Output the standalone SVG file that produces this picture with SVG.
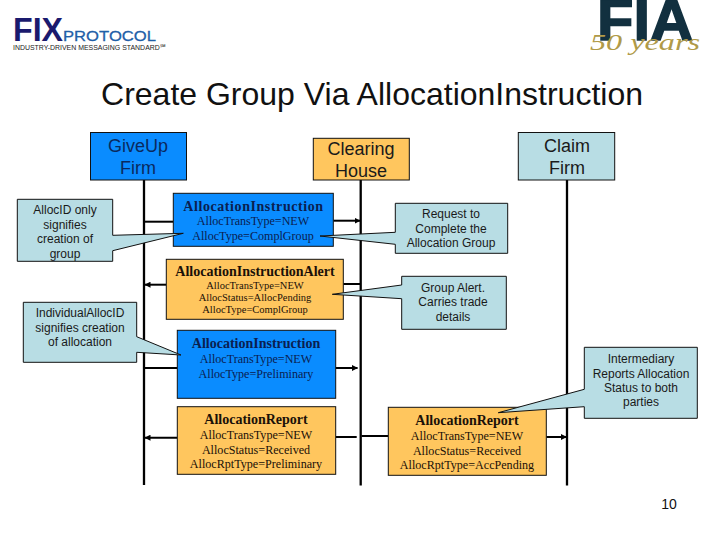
<svg xmlns="http://www.w3.org/2000/svg" width="720" height="540" viewBox="0 0 720 540">
<style>
text{font-family:"Liberation Sans",Arial,sans-serif;text-anchor:middle}
.hd{font-size:18px;fill:#1a1a1a}
.hb{font-size:18px;fill:#0a2a5e}
.note{font-size:12px;fill:#1a1a1a}
.ttl{font-family:"Liberation Serif","Times New Roman",serif;font-weight:bold;font-size:14px}
.msg{font-family:"Liberation Serif","Times New Roman",serif;font-size:12.100px}
.sm{font-family:"Liberation Serif","Times New Roman",serif;font-size:10.500px}
.nv{fill:#0a2050}.bk{fill:#1a1008}
.blue{fill:#0a8cff;stroke:#111;stroke-width:1}
.org{fill:#ffc65e;stroke:#111;stroke-width:1}
.tea{fill:#b8dde4;stroke:#111;stroke-width:1}
.life{stroke:#000;stroke-width:2.300;fill:none}
.msgl{stroke:#000;stroke-width:2;fill:none}
</style>
<defs><marker id="ah" viewBox="0 0 6 6" refX="5.500" refY="3" markerWidth="6" markerHeight="6" markerUnits="userSpaceOnUse" orient="auto-start-reverse"><path d="M0 0L6 3L0 6z" fill="#000"/></marker></defs>
<g id="logo-fix">
<text x="13" y="41" style="text-anchor:start;font-size:34px;font-weight:bold" fill="#1a1a6e" textLength="50" lengthAdjust="spacingAndGlyphs">FIX</text>
<text x="63" y="41" style="text-anchor:start;font-size:15.500px" fill="#1f5fa8" stroke="#1f5fa8" stroke-width=".3" textLength="93" lengthAdjust="spacingAndGlyphs">PROTOCOL</text>
<text x="13" y="50" style="text-anchor:start;font-size:8px" fill="#222" textLength="152" lengthAdjust="spacingAndGlyphs">INDUSTRY-DRIVEN MESSAGING STANDARD℠</text>
</g>
<g id="logo-fia">
<text x="645" y="40" style="font-size:57px;font-weight:bold" fill="#12303f" stroke="#12303f" stroke-width="1.500" textLength="96" lengthAdjust="spacingAndGlyphs">FIA</text>
<text x="645" y="50" style="font-family:'Liberation Serif',serif;font-style:italic;font-size:23px" fill="#b09a48" textLength="110" lengthAdjust="spacingAndGlyphs">50 years</text>
</g>
<text id="title" x="372" y="105" style="font-size:32px" fill="#111">Create Group Via AllocationInstruction</text>
<g id="connectors">
<path class="life" d="M144 180V485M360.700 180V485.500M567 180V485.500"/>
<path class="msgl" d="M144 221.700H173.300"/>
<path class="msgl" d="M333.300 220.700H360" marker-end="url(#ah)"/>
<path class="msgl" d="M166.300 284.700H145" marker-end="url(#ah)"/>
<path class="msgl" d="M343.300 284H360"/>
<path class="msgl" d="M144 368H177.300"/>
<path class="msgl" d="M335.700 368H357.500" marker-end="url(#ah)"/>
<path class="msgl" d="M177.300 437.700H145" marker-end="url(#ah)"/>
<path class="msgl" d="M335.700 437H356.700M361.500 436H388.300"/>
<path class="msgl" d="M546.300 437H566.500" marker-end="url(#ah)"/>
</g>
<g id="giveup"><rect class="blue" x="90.500" y="132.500" width="96" height="47.500"/><text class="hb" x="138" y="152">GiveUp</text><text class="hb" x="138" y="174">Firm</text></g>
<g id="clearing"><rect class="org" x="313.300" y="138.300" width="96" height="41.700"/><text class="hd" x="361" y="155">Clearing</text><text class="hd" x="361" y="177">House</text></g>
<g id="claim"><rect class="tea" x="518.300" y="132.500" width="96.400" height="47.500"/><text class="hd" x="567" y="152">Claim</text><text class="hd" x="567" y="174">Firm</text></g>
<g id="msg-ai1"><rect class="blue" x="173.300" y="193.300" width="160" height="53"/><text class="ttl nv" x="253.500" y="211" style="letter-spacing:.57px">AllocationInstruction</text><text class="msg nv" x="253" y="225">AllocTransType=NEW</text><text class="msg nv" x="253" y="240">AllocType=ComplGroup</text></g>
<g id="msg-alert"><rect class="org" x="166.300" y="259.300" width="177" height="60"/><text class="ttl bk" x="255" y="276">AllocationInstructionAlert</text><text class="sm bk" x="255" y="289">AllocTransType=NEW</text><text class="sm bk" x="255" y="301">AllocStatus=AllocPending</text><text class="sm bk" x="255" y="313">AllocType=ComplGroup</text></g>
<g id="msg-ai2"><rect class="blue" x="177.300" y="330.300" width="158.400" height="68"/><text class="ttl nv" x="256" y="348">AllocationInstruction</text><text class="msg nv" x="256" y="363">AllocTransType=NEW</text><text class="msg nv" x="256" y="378">AllocType=Preliminary</text></g>
<g id="msg-ar1"><rect class="org" x="177.300" y="406.700" width="158.400" height="67.600"/><text class="ttl bk" x="256" y="424">AllocationReport</text><text class="msg bk" x="256" y="439">AllocTransType=NEW</text><text class="msg bk" x="256" y="454">AllocStatus=Received</text><text class="msg bk" x="256" y="468">AllocRptType=Preliminary</text></g>
<g id="msg-ar2"><rect class="org" x="388.300" y="407.300" width="158" height="68"/><text class="ttl bk" x="467" y="425">AllocationReport</text><text class="msg bk" x="467" y="440">AllocTransType=NEW</text><text class="msg bk" x="467" y="455">AllocStatus=Received</text><text class="msg bk" x="467" y="469">AllocRptType=AccPending</text></g>
<g id="note-allocid"><path class="tea" d="M17.300 199.300H112.700V235.300L183.300 233.300L112.700 250.700V261.300H17.300Z"/><text class="note" x="65" y="214">AllocID only</text><text class="note" x="65" y="229">signifies</text><text class="note" x="65" y="243">creation of</text><text class="note" x="65" y="258">group</text></g>
<g id="note-individual"><path class="tea" d="M23.300 302.300H136.700V336.700L181 355L136.700 352.300V362.300H23.300Z"/><text class="note" x="80" y="317">IndividualAllocID</text><text class="note" x="80" y="332">signifies creation</text><text class="note" x="80" y="346">of allocation</text></g>
<g id="note-request"><path class="tea" d="M395.300 203.300H507.700V253.300H395.300V244.300L320 236L395.300 232.300Z"/><text class="note" x="451" y="218">Request to</text><text class="note" x="451" y="233">Complete the</text><text class="note" x="451" y="247">Allocation Group</text></g>
<g id="note-alert"><path class="tea" d="M401.700 276.300H506.300V329.300H401.700V298.700L332.300 294.300L401.700 285Z"/><text class="note" x="453" y="292">Group Alert.</text><text class="note" x="453" y="306">Carries trade</text><text class="note" x="453" y="321">details</text></g>
<g id="note-intermediary"><path class="tea" d="M584.300 347.300H697.300V418.300H584.300V406.700L498.300 412.700L584.300 389.300Z"/><text class="note" x="641" y="363">Intermediary</text><text class="note" x="641" y="378">Reports Allocation</text><text class="note" x="641" y="392">Status to both</text><text class="note" x="641" y="406">parties</text></g>
<text id="page" x="669" y="509" style="font-size:14px" fill="#111">10</text>
</svg>
